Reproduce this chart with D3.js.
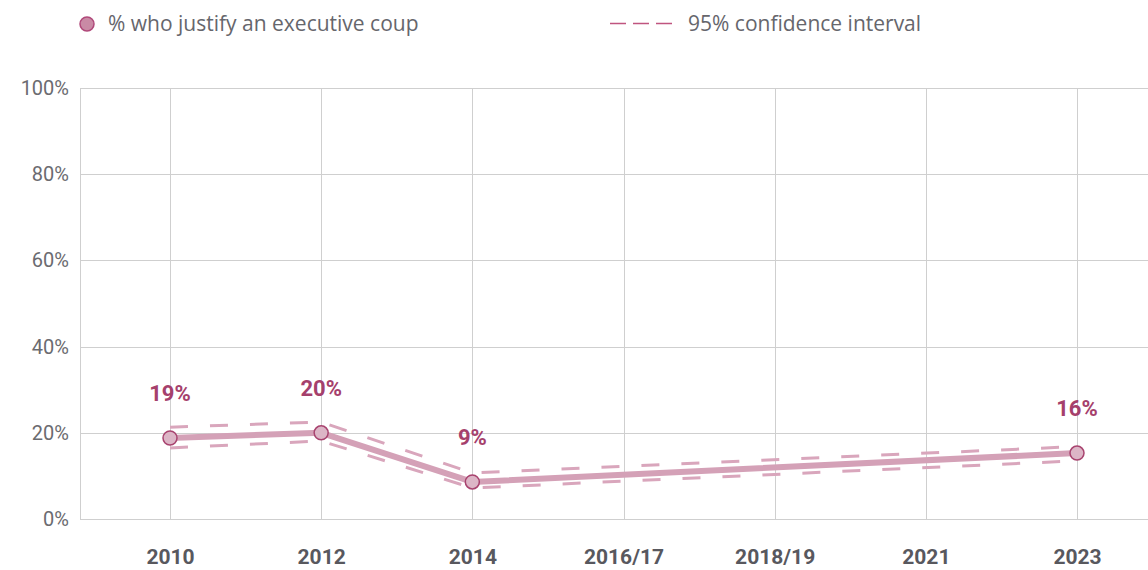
<!DOCTYPE html>
<html>
<head>
<meta charset="utf-8">
<script src="https://cdn.jsdelivr.net/npm/d3@7"></script>
<style>
  body { margin: 0; background: #fff; }
  svg  { display: block; }
</style>
</head>
<body>
<svg id="chart" width="1148" height="570"></svg>
<script>
// Survey rounds shown on the x axis.
const rounds     = [ '2010', '2012', '2014', '2016/17', '2018/19', '2021', '2023' ];
// Rounds with a measurement, and their values (percent).
const dataRounds = [ '2010', '2012', '2014', '2023' ];
const values     = [ 18.8, 20.0, 8.6, 15.3 ];
const labels     = [ '19%', '20%', '9%', '16%' ];
const ciUpper    = [ 21.3, 22.5, 10.7, 16.8 ];
const ciLower    = [ 16.5, 18.1, 7.2, 13.5 ];
const yTicks     = [ 0, 20, 40, 60, 80, 100 ];

const svg = d3.select( '#chart' );
const plot = { left: 80, right: 1148, top: 88, bottom: 519 };

const x = d3.scalePoint( ).domain( rounds ).range( [ 170, 1077 ] );
const y = d3.scaleLinear( ).domain( [ 0, 100 ] ).range( [ plot.bottom, plot.top ] );

// Grid.
const grid = svg.append( 'g' ).attr( 'stroke', '#cfcfcf' ).attr( 'stroke-width', 1 );
grid.selectAll( 'line.h' ).data( yTicks ).enter( ).append( 'line' )
  .attr( 'x1', plot.left ).attr( 'x2', plot.right )
  .attr( 'y1', d => Math.round( y( d ) ) + 0.5 ).attr( 'y2', d => Math.round( y( d ) ) + 0.5 );
grid.selectAll( 'line.v' ).data( rounds ).enter( ).append( 'line' )
  .attr( 'x1', d => Math.round( x( d ) ) + 0.5 ).attr( 'x2', d => Math.round( x( d ) ) + 0.5 )
  .attr( 'y1', plot.top ).attr( 'y2', plot.bottom );
grid.append( 'line' )
  .attr( 'x1', plot.left + 0.5 ).attr( 'x2', plot.left + 0.5 )
  .attr( 'y1', plot.top ).attr( 'y2', plot.bottom );

// Y axis labels.
const yAxis = d3.axisLeft( y ).tickValues( yTicks ).tickSize( 0 ).tickPadding( 11 ).tickFormat( d => d + '%' );
svg.append( 'g' ).attr( 'transform', `translate( ${plot.left}, 0 )` ).call( yAxis )
  .call( g => g.select( '.domain' ).remove( ) )
  .selectAll( 'text' )
    .attr( 'font-family', 'Roboto, sans-serif' ).attr( 'font-size', 20 ).attr( 'fill', '#6b6b70' );

// X axis labels.
const xAxis = d3.axisBottom( x ).tickSize( 0 ).tickPadding( 30 );
svg.append( 'g' ).attr( 'transform', `translate( 0, ${plot.bottom} )` ).call( xAxis )
  .call( g => g.select( '.domain' ).remove( ) )
  .selectAll( 'text' )
    .attr( 'font-family', 'Roboto, sans-serif' ).attr( 'font-size', 21 )
    .attr( 'font-weight', 'bold' ).attr( 'fill', '#58585e' );

const pts = dataRounds.map( ( r, i ) => ( { r, v: values[ i ], hi: ciUpper[ i ], lo: ciLower[ i ], label: labels[ i ] } ) );

// Confidence interval lines.
[ 'hi', 'lo' ].forEach( k => {
  svg.append( 'path' )
    .datum( pts )
    .attr( 'fill', 'none' ).attr( 'stroke', '#d9a6bc' ).attr( 'stroke-width', 3 )
    .attr( 'stroke-dasharray', '18,22' )
    .attr( 'd', d3.line( ).x( d => x( d.r ) ).y( d => y( d[ k ] ) ) );
} );

// Main line.
svg.append( 'path' )
  .datum( pts )
  .attr( 'fill', 'none' ).attr( 'stroke', '#d4a1b7' ).attr( 'stroke-width', 6 )
  .attr( 'stroke-linejoin', 'round' )
  .attr( 'd', d3.line( ).x( d => x( d.r ) ).y( d => y( d.v ) ) );

// Points.
svg.selectAll( 'circle.pt' ).data( pts ).enter( ).append( 'circle' )
  .attr( 'cx', d => x( d.r ) ).attr( 'cy', d => y( d.v ) ).attr( 'r', 7 )
  .attr( 'fill', '#dcb5c6' ).attr( 'stroke', '#a8436f' ).attr( 'stroke-width', 1.5 );

// Value labels.
svg.selectAll( 'text.val' ).data( pts ).enter( ).append( 'text' )
  .attr( 'x', d => x( d.r ) ).attr( 'y', d => y( d.v ) - 37 )
  .attr( 'text-anchor', 'middle' )
  .attr( 'font-family', 'Roboto, sans-serif' ).attr( 'font-size', 22 ).attr( 'font-weight', 'bold' )
  .attr( 'fill', '#a5406c' )
  .text( d => d.label );

// Legend.
const legend = svg.append( 'g' ).attr( 'font-family', '"Open Sans", sans-serif' ).attr( 'font-size', 21 ).attr( 'fill', '#66666c' );
legend.append( 'circle' ).attr( 'cx', 87 ).attr( 'cy', 24 ).attr( 'r', 7 )
  .attr( 'fill', '#c98aa5' ).attr( 'stroke', '#b0497a' ).attr( 'stroke-width', 1.5 );
legend.append( 'text' ).attr( 'x', 108 ).attr( 'y', 31 ).text( '% who justify an executive coup' );
legend.append( 'line' ).attr( 'x1', 610 ).attr( 'x2', 672 ).attr( 'y1', 23.5 ).attr( 'y2', 23.5 )
  .attr( 'stroke', '#c0557f' ).attr( 'stroke-width', 1.5 ).attr( 'stroke-dasharray', '16,7' );
legend.append( 'text' ).attr( 'x', 688 ).attr( 'y', 31 ).text( '95% confidence interval' );
</script>
</body>
</html>
